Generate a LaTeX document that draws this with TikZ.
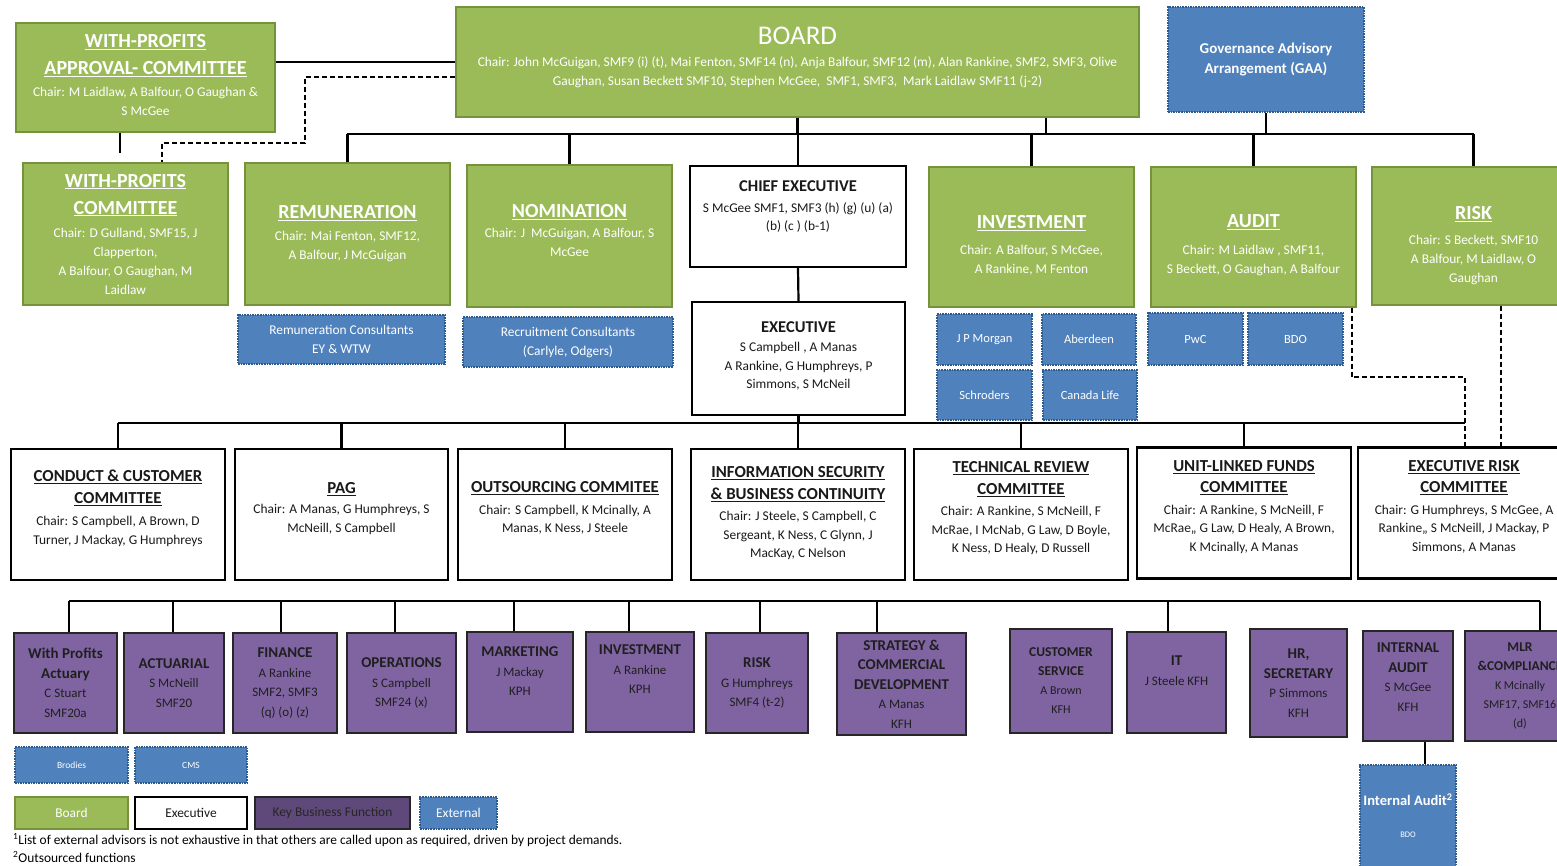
\documentclass[tikz,border=0pt]{standalone}
\usepackage{fontspec}
\setmainfont{Carlito}
\definecolor{boardgreen}{HTML}{9BBB59}
\definecolor{boardline}{HTML}{76923C}
\definecolor{extblue}{HTML}{4F81BD}
\definecolor{extline}{HTML}{2C5A8F}
\definecolor{kbfpurple}{HTML}{8064A2}
\definecolor{kbfdark}{HTML}{5F497A}
\newcommand{\gttl}[1]{{\fontsize{20}{19}\selectfont\bfseries\underline{#1}}}
\newcommand{\wttl}[1]{{\fontsize{16.8}{19}\selectfont\bfseries\underline{#1}}}
\newcommand{\pttl}[1]{{\fontsize{15}{19}\selectfont\bfseries #1}}
\begin{document}
\begin{tikzpicture}[x=1pt,y=-1pt,
  boardbox/.style={draw=boardline,line width=1.2pt,fill=boardgreen,text=white,align=center,inner sep=1pt,font=\fontsize{13.4}{19}\selectfont},
  execbox/.style={draw=black,line width=2.4pt,fill=white,text=black!90,align=center,inner sep=1pt,font=\fontsize{13.4}{18.5}\selectfont},
  kbfbox/.style={draw=black!85,line width=2.2pt,fill=kbfpurple,text=black!88,align=center,inner sep=1pt,font=\fontsize{13}{19.5}\selectfont},
  extbox/.style={draw=extline,line width=1.6pt,densely dotted,fill=extblue,text=white,align=center,inner sep=1pt,font=\fontsize{13.4}{19}\selectfont},
  conn/.style={line width=2.2pt},
  dashconn/.style={line width=2.2pt,dash pattern=on 5pt off 3pt}]
\clip (0,0) rectangle (1557,865);
% top row
\node[boardbox,minimum width=259pt,minimum height=109pt] (wpac) at (145.5,77.5) {\gttl{WITH-PROFITS}\\[8pt]\gttl{APPROVAL- COMMITTEE}\\[3pt]Chair: M Laidlaw, A Balfour, O Gaughan \&\\S McGee\\[-14pt]~};
\node[boardbox,minimum width=683pt,minimum height=110pt] (board) at (797.5,62) {{\fontsize{27}{27}\selectfont BOARD}\\[3pt]Chair: John McGuigan, SMF9 (i) (t), Mai Fenton, SMF14 (n), Anja Balfour, SMF12 (m), Alan Rankine, SMF2, SMF3, Olive\\Gaughan, Susan Beckett SMF10, Stephen McGee,\ \ SMF1, SMF3,\ \ Mark Laidlaw SMF11 (j-2)\\[-8pt]~};
\node[extbox,minimum width=196pt,minimum height=105pt,font=\fontsize{15}{20}\selectfont\bfseries] (gaa) at (1266,59.5) {Governance Advisory\\Arrangement (GAA)};
% board committees
\node[boardbox,minimum width=205pt,minimum height=142pt] (wpc) at (125.5,234) {\gttl{WITH-PROFITS}\\[8pt]\gttl{COMMITTEE}\\[4pt]Chair: D Gulland, SMF15, J\\Clapperton,\\A Balfour, O Gaughan, M\\Laidlaw};
\node[boardbox,minimum width=205pt,minimum height=142pt] (remco) at (347.5,234) {\gttl{REMUNERATION}\\[3pt]Chair: Mai Fenton, SMF12,\\A Balfour, J McGuigan};
\node[boardbox,minimum width=205pt,minimum height=142pt] (nomco) at (569.5,236) {\gttl{NOMINATION}\\[1pt]Chair: J\ \ McGuigan, A Balfour, S\\McGee\\[-8pt]~};
\node[execbox,minimum width=216pt,minimum height=101pt] (ceo) at (798,216.5) {{\fontsize{16.5}{19}\selectfont\bfseries CHIEF EXECUTIVE}\\[2pt]S McGee SMF1, SMF3 (h) (g) (u) (a)\\(b) (c ) (b-1)\\[3pt]~};
\node[boardbox,minimum width=205pt,minimum height=140pt] (invco) at (1031.5,237) {~\\[11pt]\gttl{INVESTMENT}\\[7pt]Chair: A Balfour, S McGee,\\A Rankine, M Fenton};
\node[boardbox,minimum width=205pt,minimum height=140pt] (audco) at (1253.5,237) {~\\[11pt]\gttl{AUDIT}\\[8pt]Chair: M Laidlaw , SMF11,\\S Beckett, O Gaughan, A Balfour};
\node[boardbox,minimum width=203pt,minimum height=138pt] (riskco) at (1473.5,236) {~\\[14pt]\gttl{RISK}\\[6pt]Chair: S Beckett, SMF10\\A Balfour, M Laidlaw, O\\Gaughan};
\node[execbox,minimum width=213pt,minimum height=113pt] (exec) at (798.5,358.5) {{\fontsize{16.5}{19}\selectfont\bfseries EXECUTIVE}\\[1pt]S Campbell , A Manas\\A Rankine, G Humphreys, P\\Simmons, S McNeil\\[-12pt]~};
% external advisors
\node[extbox,minimum width=207pt,minimum height=49pt] (remext) at (341.5,339.5) {Remuneration Consultants\\EY \& WTW};
\node[extbox,minimum width=210pt,minimum height=50pt] (recext) at (568,342) {Recruitment Consultants\\(Carlyle, Odgers)};
\node[extbox,minimum width=95pt,minimum height=51pt,font=\fontsize{12.5}{14}\selectfont] (jpm) at (984.5,339.5) {J P Morgan};
\node[extbox,minimum width=94pt,minimum height=51pt,font=\fontsize{12.5}{14}\selectfont] (abd) at (1089,339.5) {Aberdeen};
\node[extbox,minimum width=95pt,minimum height=50pt,font=\fontsize{12.5}{14}\selectfont] (schr) at (984.5,395) {Schroders};
\node[extbox,minimum width=94pt,minimum height=50pt,font=\fontsize{12.5}{14}\selectfont] (canl) at (1090,395) {Canada Life};
\node[extbox,minimum width=95pt,minimum height=52pt,font=\fontsize{12.5}{14}\selectfont] (pwc) at (1195.5,339) {PwC};
\node[extbox,minimum width=95pt,minimum height=52pt,font=\fontsize{12.5}{14}\selectfont] (bdo) at (1295.5,339) {BDO};
% executive committees
\node[execbox,minimum width=214pt,minimum height=131pt] (conduct) at (118,514.5) {\wttl{CONDUCT \& CUSTOMER}\\[3pt]\wttl{COMMITTEE}\\[4pt]Chair: S Campbell, A Brown, D\\Turner, J Mackay, G Humphreys\\[-4pt]~};
\node[execbox,minimum width=213pt,minimum height=131pt] (pag) at (341.5,514.5) {\wttl{PAG}\\[2pt]Chair: A Manas, G Humphreys, S\\McNeill, S Campbell\\[-4pt]~};
\node[execbox,minimum width=214pt,minimum height=131pt] (outsrc) at (565,514.5) {\wttl{OUTSOURCING COMMITEE}\\[3pt]Chair: S Campbell, K Mcinally, A\\Manas, K Ness, J Steele\\[-4pt]~};
\node[execbox,minimum width=214pt,minimum height=131pt] (infosec) at (798,514.5) {\wttl{INFORMATION SECURITY}\\[3pt]\wttl{\& BUSINESS CONTINUITY}\\[3pt]Chair: J Steele, S Campbell, C\\Sergeant, K Ness, C Glynn, J\\MacKay, C Nelson\\[-14pt]~};
\node[execbox,minimum width=214pt,minimum height=131pt] (techrev) at (1021,514.5) {\wttl{TECHNICAL REVIEW}\\[3pt]\wttl{COMMITTEE}\\[3pt]Chair: A Rankine, S McNeill, F\\McRae, I McNab, G Law, D Boyle,\\K Ness, D Healy, D Russell\\[-4pt]~};
\node[execbox,minimum width=214pt,minimum height=131pt] (ulf) at (1244,513) {\wttl{UNIT-LINKED FUNDS}\\[3pt]\wttl{COMMITTEE}\\[3pt]Chair: A Rankine, S McNeill, F\\McRae,, G Law, D Healy, A Brown,\\K Mcinally, A Manas\\[-4pt]~};
\node[execbox,minimum width=212pt,minimum height=131pt] (erc) at (1464,513) {\wttl{EXECUTIVE RISK}\\[3pt]\wttl{COMMITTEE}\\[3pt]Chair: G Humphreys, S McGee, A\\Rankine,, S McNeill, J Mackay, P\\Simmons, A Manas\\[-4pt]~};
% key business functions
\node[kbfbox,minimum width=103pt,minimum height=100pt] (wpa) at (65.5,683) {\pttl{With Profits}\\\pttl{Actuary}\\C Stuart\\SMF20a};
\node[kbfbox,minimum width=100pt,minimum height=100pt] (actu) at (174,683) {\pttl{ACTUARIAL}\\S McNeill\\SMF20};
\node[kbfbox,minimum width=104pt,minimum height=100pt] (fin) at (285,683) {\pttl{FINANCE}\\A Rankine\\SMF2, SMF3\\(q) (o) (z)};
\node[kbfbox,minimum width=109pt,minimum height=100pt] (ops) at (401.5,683) {\pttl{OPERATIONS}\\S Campbell\\SMF24 (x)};
\node[kbfbox,minimum width=106pt,minimum height=100pt] (mkt) at (520,682) {\pttl{MARKETING}\\J Mackay\\KPH\\[2pt]~};
\node[kbfbox,minimum width=108pt,minimum height=100pt] (invf) at (640,682) {\pttl{INVESTMENT}\\A Rankine\\KPH\\[6pt]~};
\node[kbfbox,minimum width=102pt,minimum height=100pt] (riskf) at (757,683) {\pttl{RISK}\\G Humphreys\\SMF4 (t-2)};
\node[kbfbox,minimum width=129pt,minimum height=102pt] (strat) at (901.5,684) {\pttl{STRATEGY \&}\\\pttl{COMMERCIAL}\\\pttl{DEVELOPMENT}\\A Manas\\KFH};
\node[kbfbox,minimum width=102pt,minimum height=104pt,font=\fontsize{12}{19}\selectfont] (custs) at (1061,681) {{\fontsize{13.5}{19}\selectfont\bfseries CUSTOMER}\\{\fontsize{13.5}{19}\selectfont\bfseries SERVICE}\\A Brown\\KFH};
\node[kbfbox,minimum width=99pt,minimum height=101pt] (itf) at (1176.5,682.5) {\pttl{IT}\\J Steele KFH\\[4pt]~};
\node[kbfbox,minimum width=97pt,minimum height=108pt] (hrs) at (1298.5,683) {\pttl{HR,}\\\pttl{SECRETARY}\\P Simmons\\KFH};
\node[kbfbox,minimum width=90pt,minimum height=110pt] (intaud) at (1408,686) {\pttl{INTERNAL}\\\pttl{AUDIT}\\S McGee\\KFH\\[-2pt]~};
\node[kbfbox,minimum width=110pt,minimum height=110pt,font=\fontsize{12}{19}\selectfont] (mlr) at (1520,686) {{\fontsize{13.5}{19}\selectfont\bfseries MLR}\\{\fontsize{13.5}{19}\selectfont\bfseries \&COMPLIANCE}\\K Mcinally\\SMF17, SMF16\\(d)};
\node[extbox,minimum width=96pt,minimum height=116pt] (iaext) at (1408,823) {{\fontsize{14.5}{19}\selectfont\bfseries Internal Audit\textsuperscript{2}}\\[13pt]{\fontsize{8.5}{10}\selectfont BDO}\\[-5pt]~};
\node[extbox,minimum width=113pt,minimum height=36pt,font=\fontsize{9.5}{10}\selectfont] (brod) at (71.5,765) {Brodies};
\node[extbox,minimum width=112pt,minimum height=36pt,font=\fontsize{9.5}{10}\selectfont] (cms) at (191,765) {CMS};
% key
\node[boardbox,minimum width=113pt,minimum height=32pt] (lgboard) at (71.5,813) {Board};
\node[execbox,minimum width=112pt,minimum height=32pt] (lgexec) at (191,813) {Executive};
\node[kbfbox,fill=kbfdark,text=black!85,font=\fontsize{13.4}{19}\selectfont,minimum width=155pt,minimum height=32pt] (lgkbf) at (332.5,813) {Key Business Function};
\node[extbox,minimum width=77pt,minimum height=32pt] (lgext) at (458.5,813) {External};
\node[anchor=west,inner sep=0pt,font=\fontsize{13.4}{15}\selectfont] (fnone) at (13,840) {\textsuperscript{1}List of external advisors is not exhaustive in that others are called upon as required, driven by project demands.};
\node[anchor=west,inner sep=0pt,font=\fontsize{13.4}{15}\selectfont] (fntwo) at (13,857) {\textsuperscript{2}Outsourced functions};
% connectors
\coordinate (topbusL) at (347,134);
\coordinate (topbusR) at (1474,134);
\coordinate (midbusL) at (118,423);
\coordinate (midbusR) at (1465,423);
\coordinate (botbusL) at (69,601);
\coordinate (botbusR) at (1540,601);
\coordinate (wpstub) at (120,153);
\coordinate (wpjog) at (305,143);
\coordinate (audjog) at (1465,377);
\draw[conn] (board.west) -- (board.west -| wpac.east);
\draw[conn] ([xshift=-25.5pt]wpac.south) -- (wpstub);
\draw[dashconn] ([yshift=-15pt]board.west) -| (wpjog) -| ([xshift=36.5pt]wpc.north);
\draw[conn] (board.south) -- (board.south |- topbusL);
\draw[conn] ([xshift=248.5pt]board.south) -- ([xshift=248.5pt]board.south |- topbusL);
\draw[conn] (gaa.south) -- (gaa.south |- topbusL);
\draw[conn] (topbusL) -- (topbusR);
\foreach \n in {remco,nomco,ceo,invco,audco,riskco}
  \draw[conn] (\n.north) -- (\n.north |- topbusL);
\draw[conn] (ceo.south) -- (exec.north);
\draw[conn] (midbusL) -- (midbusR);
\draw[conn] (exec.south) -- (exec.south |- midbusL);
\foreach \n in {conduct,pag,outsrc,infosec,techrev,ulf}
  \draw[conn] (\n.north) -- (\n.north |- midbusL);
\draw[dashconn] ([xshift=-5pt]audco.south east) |- (audjog) -- (erc.north -| audjog);
\draw[dashconn] ([xshift=27.5pt]riskco.south) -- ([xshift=27.5pt]riskco.south |- erc.north);
\draw[conn] (botbusL) -- (botbusR);
\foreach \n/\dx in {wpa/3.5,actu/-1,fin/-4,ops/-6.5,mkt/-6,invf/-11,riskf/3,strat/-24.5,itf/-8.5,mlr/20}
  \draw[conn] ([xshift=\dx pt]\n.north) -- ([xshift=\dx pt]\n.north |- botbusL);
\draw[conn] ([xshift=17pt]intaud.south) -- ([xshift=17pt]iaext.north);
\end{tikzpicture}
\end{document}
